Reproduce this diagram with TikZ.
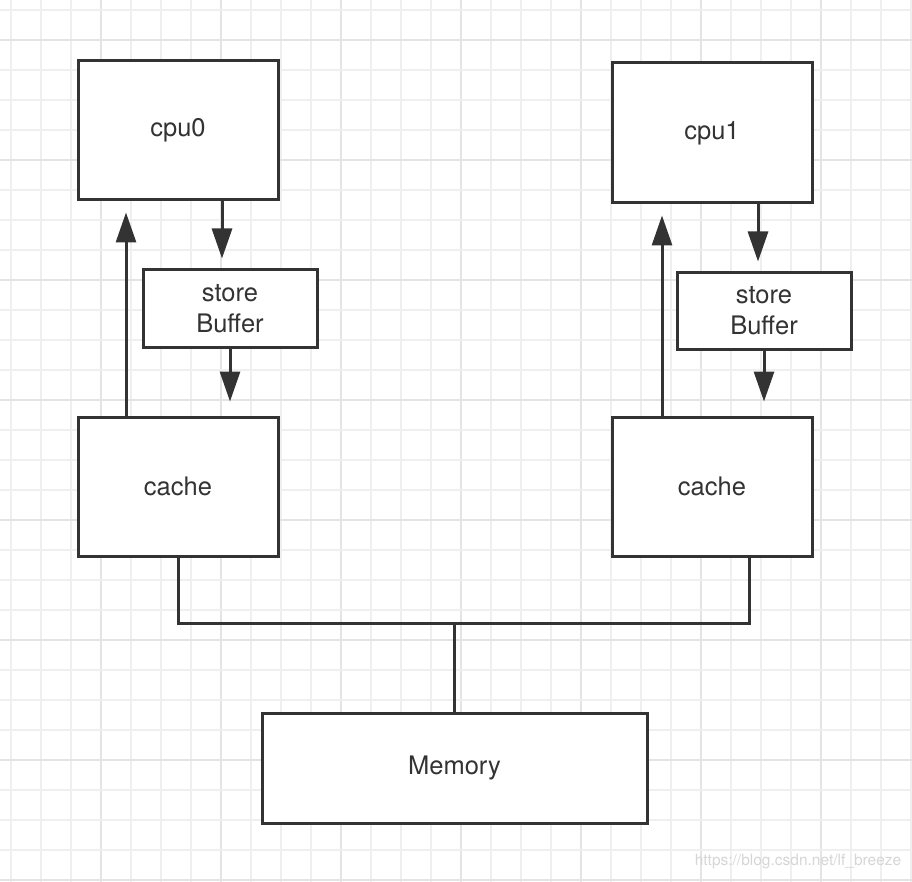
\documentclass[tikz,border=0pt]{standalone}
\usepackage{fontspec}
\setmainfont{TeX Gyre Heros}
\usepackage{tikz}
\usetikzlibrary{arrows.meta,calc}
\definecolor{ink}{HTML}{333333}
\definecolor{gridminor}{HTML}{EFEFEF}
\definecolor{gridmajor}{HTML}{E4E4E4}
\definecolor{mark}{HTML}{D6D6D6}
\tikzset{
  box/.style={draw=ink,line width=3pt,fill=white,inner sep=0pt,text=ink,
    font=\fontsize{25.5}{31}\selectfont,align=center},
  link/.style={draw=ink,line width=3pt},
  arr/.style={link,-{Triangle[length=30pt,width=20pt]}},
  gline/.style={line width=2pt}
}
\begin{document}
\begin{tikzpicture}[x=1pt,y=-1pt]
  \fill[white] (0,0) rectangle (912,882);
  \useasboundingbox (0,0) rectangle (912,882);
  %% grid paper
  \foreach \k in {0,...,30}{
    \pgfmathtruncatemacro{\m}{mod(\k,4)}
    \ifnum\m=3 \def\gc{gridmajor}\else\def\gc{gridminor}\fi
    \draw[gline,\gc] (11+30*\k,0) -- (11+30*\k,882);
  }
  \foreach \k in {0,...,29}{
    \pgfmathtruncatemacro{\m}{mod(\k,4)}
    \ifnum\m=1 \def\gc{gridmajor}\else\def\gc{gridminor}\fi
    \draw[gline,\gc] (0,10+30*\k) -- (912,10+30*\k);
  }
  %% left side
  \node[box,minimum width=200pt,minimum height=139pt] (cpu0) at (178,130.5) {cpu0};
  \node[box,minimum width=174pt,minimum height=77pt] (sb0) at (230,308.5) {store\\Buffer};
  \node[box,minimum width=200pt,minimum height=139pt] (cache0) at (178,486.5) {cache};
  %% right side
  \node[box,minimum width=200pt,minimum height=140pt] (cpu1) at (712,133) {cpu1};
  \node[box,minimum width=174pt,minimum height=76pt] (sb1) at (764,311) {store\\Buffer};
  \node[box,minimum width=200pt,minimum height=139pt] (cache1) at (712,486.5) {cache};
  %% memory
  \node[box,minimum width=385pt,minimum height=110pt] (mem) at (454.5,768) {Memory};
  %% arrows
  \draw[arr,shorten >=10pt] ([xshift=44pt]cpu0.south) -- ([xshift=44pt]cpu0.south |- sb0.north);
  \draw[arr,shorten >=14pt] (sb0.south) -- (sb0.south |- cache0.north);
  \draw[arr,shorten >=11pt] ([xshift=-52pt]cache0.north) -- ([xshift=-52pt]cache0.north |- cpu0.south);
  \draw[arr,shorten >=10pt] ([xshift=46pt]cpu1.south) -- ([xshift=46pt]cpu1.south |- sb1.north);
  \draw[arr,shorten >=14pt] (sb1.south) -- (sb1.south |- cache1.north);
  \draw[arr,shorten >=11pt] ([xshift=-50pt]cache1.north) -- ([xshift=-50pt]cache1.north |- cpu1.south);
  %% bus
  \coordinate (bus) at ($(cache0.south)+(0,66)$);
  \draw[link] (cache0.south) -- (bus) -| ([xshift=37pt]cache1.south);
  \draw[link] (mem.north) -- (mem.north |- bus);
  %% watermark
  \node[text=mark,font=\fontsize{15.5}{18}\selectfont,inner sep=0pt] (wm) at (798,862) {https://blog.csdn.net/lf\_breeze};
\end{tikzpicture}
\end{document}
